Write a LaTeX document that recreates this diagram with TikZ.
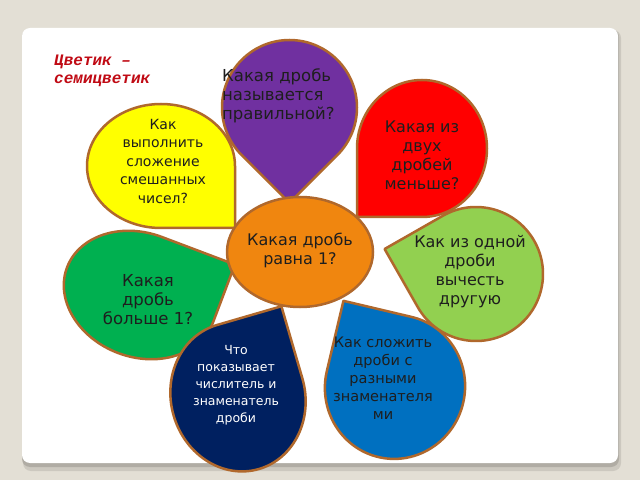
\documentclass[tikz,border=0pt]{standalone}
\usepackage{fontspec}
\setmainfont{DejaVu Sans}
\newfontfamily\titlefont{Liberation Mono}
\definecolor{bgc}{RGB}{227,223,213}
\definecolor{shadowc}{RGB}{170,166,158}
\definecolor{brownline}{RGB}{176,104,44}
\definecolor{cpurple}{RGB}{112,48,160}
\definecolor{cred}{RGB}{255,0,0}
\definecolor{cyellow}{RGB}{255,255,0}
\definecolor{cgreen}{RGB}{0,176,80}
\definecolor{clgreen}{RGB}{146,208,80}
\definecolor{cnavy}{RGB}{0,32,96}
\definecolor{cblue}{RGB}{0,112,192}
\definecolor{corange}{RGB}{240,134,15}
\definecolor{ctitle}{RGB}{192,10,20}
\definecolor{ctext}{RGB}{30,30,30}
\newcommand\petal[5]{%
  \filldraw[petalline, fill=#5, shift={#1}, #4] (#2,#3) -- (0,#3)
    arc[start angle=90, end angle=360, x radius=#2, y radius=#3] -- cycle;}
\begin{document}
\begin{tikzpicture}[x=1pt, y=1pt,
  petalline/.style={draw=brownline, line width=2.5pt, line join=round},
  ptext/.style={align=center, text=ctext, font=\fontsize{16}{19}\selectfont, inner sep=0pt}]
\useasboundingbox (0,0) rectangle (640,480);
\fill[bgc] (0,0) rectangle (640,480);
% slide
\fill[shadowc, opacity=0.4, rounded corners=8pt] (23,9) rectangle (621,450);
\fill[shadowc, opacity=0.8, rounded corners=8pt] (22,13) rectangle (619,451);
\fill[white, rounded corners=8pt] (22,17) rectangle (618,452);
% title
\node[anchor=north west, align=left, inner sep=0pt, text=ctitle,
  font=\titlefont\bfseries\itshape\fontsize{16}{18}\selectfont] (title) at (54,425)
  {Цветик –\\семицветик};
% petals
\petal{(289.5,372.5)}{67.5}{67.5}{rotate=-135}{cpurple}
\petal{(422,331.5)}{65}{68.5}{rotate=180}{cred}
\petal{(161,314)}{74}{62}{yscale=-1}{cyellow}
\petal{(140,185)}{78}{62}{rotate=-20.7}{cgreen}
\petal{(238,83)}{67}{75}{rotate=16.2}{cnavy}
\petal{(395,93)}{70}{72}{rotate=-13.3, xscale=-1}{cblue}
\petal{(476,206)}{67}{67}{rotate=119.7}{clgreen}
% centre
\filldraw[petalline, fill=corange] (300,228) ellipse[x radius=73, y radius=55];
% texts
\node[ptext, align=left, anchor=west, font=\fontsize{16.5}{19}\selectfont] (tpurple) at (222,384) {Какая дробь\\называется\\правильной?};
\node[ptext] (tred) at (422,325) {Какая из\\двух\\дробей\\меньше?};
\node[ptext, font=\fontsize{14}{18.5}\selectfont] (tyellow) at (163,319) {Как\\выполнить\\сложение\\смешанных\\чисел?};
\node[ptext] (tlgreen) at (470,208) {Как из одной\\дроби\\вычесть\\другую};
\node[ptext, font=\fontsize{16.5}{19}\selectfont] (tgreen) at (148,180) {Какая\\дробь\\больше 1?};
\node[ptext, text=white, font=\fontsize{12.5}{17}\selectfont] (tnavy) at (236,95) {Что\\показывает\\числитель и\\знаменатель\\дроби};
\node[ptext, font=\fontsize{14.5}{18}\selectfont] (tblue) at (383,102) {Как сложить\\дроби с\\разными\\знаменателя\\ми};
\node[ptext] (tcentre) at (300,230) {Какая дробь\\равна 1?};
\end{tikzpicture}
\end{document}
